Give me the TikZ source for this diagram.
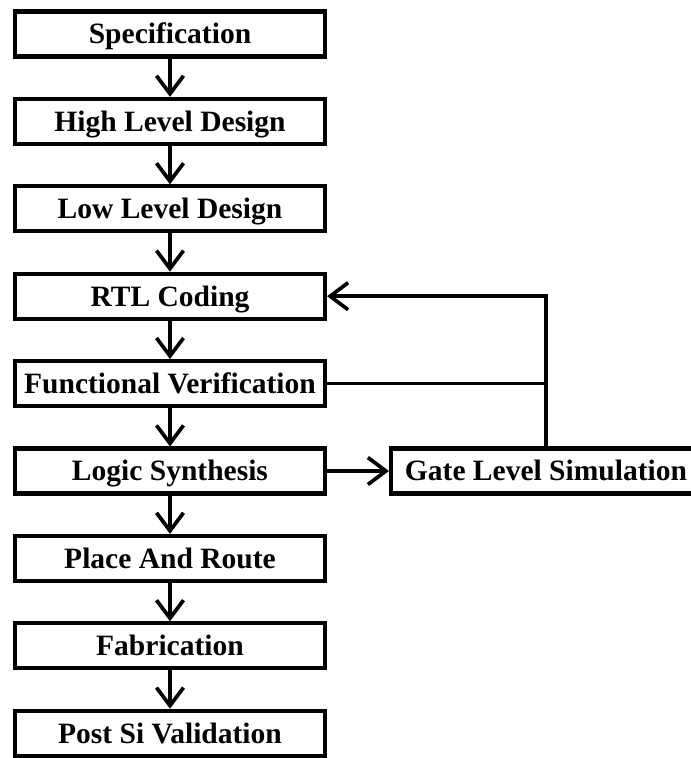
\documentclass[tikz,border=0pt]{standalone}
\usepackage{fontspec}
\setmainfont{Liberation Serif}
\usetikzlibrary{arrows.meta}

\begin{document}
\begin{tikzpicture}[
        node distance=1.748cm,
        stage/.style={
            rectangle,
            draw,
            line width=2.3pt,
            minimum width=6.2cm,
            minimum height=0.9cm,
            inner sep=0pt,
            text height=11.2pt,
            text depth=0pt,
            font=\bfseries\fontsize{16.8}{19}\selectfont
        },
        flow/.style={
            line width=2.1pt,
            -{Straight Barb[length=0.36cm, width=0.54cm, line width=2.1pt]}
        }
    ]
        \useasboundingbox (-3.4,0.68) rectangle (10.4,-14.48);

        % Main design flow, top to bottom
        \node[stage] (spec) {Specification};
        \node[stage] (hld) [below of=spec] {High Level Design};
        \node[stage] (lld) [below of=hld] {Low Level Design};
        \node[stage] (rtl) [below of=lld] {RTL Coding};
        \node[stage] (fv) [below of=rtl] {Functional Verification};
        \node[stage] (ls) [below of=fv] {Logic Synthesis};
        \node[stage] (pnr) [below of=ls] {Place And Route};
        \node[stage] (fab) [below of=pnr] {Fabrication};
        \node[stage] (psv) [below of=fab] {Post Si Validation};

        % Side branch after synthesis
        \node[stage] (gls) [right of=ls, node distance=7.52cm] {Gate Level Simulation};

        % Edges
        \draw[flow] (spec) -- (hld);
        \draw[flow] (hld) -- (lld);
        \draw[flow] (lld) -- (rtl);
        \draw[flow] (rtl) -- (fv);
        \draw[flow] (fv) -- (ls);
        \draw[flow] (ls) -- (pnr);
        \draw[flow] (pnr) -- (fab);
        \draw[flow] (fab) -- (psv);
        \draw[flow] (ls) -- (gls);

        % Feedback back to RTL
        \draw[line width=2.1pt] (fv) -- (fv -| gls);
        \draw[flow] (gls) |- (rtl);
    \end{tikzpicture}
\end{document}
